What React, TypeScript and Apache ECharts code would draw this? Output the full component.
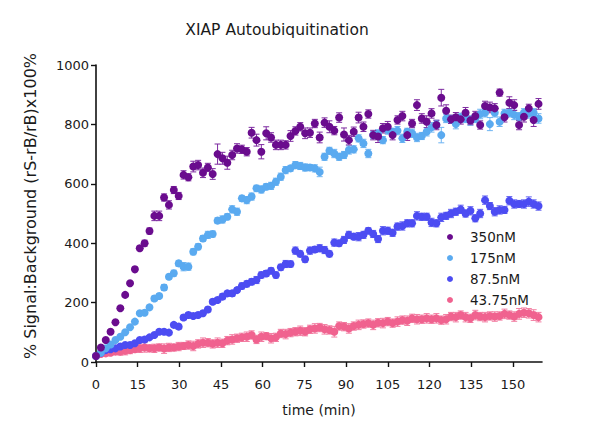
import React, { useEffect, useRef } from "react";
import * as echarts from "echarts";

// time points (min)
const times = [
  0, 1.75, 3.5, 5.25, 7, 8.75, 10.5, 12.25, 14, 15.75, 17.5, 19.25, 21, 22.75, 24.5, 26.25, 28, 29.75, 31.5, 33.25,
  35, 36.75, 38.5, 40.25, 42, 43.75, 45.5, 47.25, 49, 50.75, 52.5, 54.25, 56, 57.75, 59.5, 61.25, 63, 64.75, 66.5, 68.25,
  70, 71.75, 73.5, 75.25, 77, 78.75, 80.5, 82.25, 84, 85.75, 87.5, 89.25, 91, 92.75, 94.5, 96.25, 98, 99.75, 101.5, 103.25,
  105, 106.75, 108.5, 110.25, 112, 113.75, 115.5, 117.25, 119, 120.75, 122.5, 124.25, 126, 127.75, 129.5, 131.25, 133, 134.75, 136.5, 138.25,
  140, 141.75, 143.5, 145.25, 147, 148.75, 150.5, 152.25, 154, 155.75, 157.5, 159.25,
];

const seriesNames = ["350nM", "175nM", "87.5nM", "43.75nM"];

const v350 = [
  20, 49, 74, 102, 134, 181, 226, 265, 312, 383, 400, 441, 492, 492, 554, 529, 579, 559, 630, 622, 658, 663, 637, 655,
  633, 700, 686, 671, 697, 719, 716, 708, 772, 747, 708, 770, 756, 731, 731, 731, 761, 778, 792, 770, 772, 803, 756,
  806, 792, 779, 823, 766, 747, 775, 823, 792, 835, 764, 759, 787, 792, 764, 815, 828, 764, 803, 865, 820, 809, 837,
  798, 890, 846, 817, 824, 817, 839, 813, 828, 798, 862, 857, 854, 907, 824, 873, 865, 798, 826, 854, 815, 869,
];
const e350 = [
  4, 4, 5, 5, 5, 6, 6, 6, 8, 8, 10, 10, 16, 16, 12, 14, 12, 12, 14, 12, 18, 16, 16, 14,
  18, 34, 20, 22, 16, 16, 14, 14, 18, 20, 24, 22, 16, 16, 16, 14, 18, 14, 14, 18, 16, 14, 18,
  16, 20, 14, 16, 22, 16, 16, 18, 16, 14, 16, 20, 16, 18, 16, 14, 16, 18, 14, 18, 16, 20, 16,
  16, 28, 20, 14, 16, 16, 18, 14, 16, 14, 16, 18, 16, 12, 16, 20, 18, 16, 18, 14, 22, 18,
];

const v175 = [
  20, 31, 46, 59, 74, 85, 100, 117, 136, 164, 166, 184, 214, 222, 251, 287, 299, 332, 321, 321, 371, 388, 416, 428,
  431, 476, 480, 489, 514, 506, 551, 545, 557, 585, 581, 590, 593, 607, 624, 646, 652, 663, 660, 655, 655, 652, 640,
  691, 711, 702, 691, 697, 714, 716, 753, 736, 702, 764, 768, 747, 781, 775, 779, 753, 775, 770, 756, 761, 775, 790,
  800, 764, 820, 817, 801, 824, 820, 813, 820, 835, 839, 801, 839, 809, 837, 839, 832, 826, 839, 837, 839, 820,
];
const e175 = [
  3, 3, 4, 4, 4, 5, 5, 5, 6, 6, 6, 8, 8, 8, 10, 8, 10, 10, 14, 12, 10, 10, 10, 12,
  10, 10, 12, 10, 12, 12, 10, 12, 12, 10, 12, 10, 12, 12, 12, 12, 10, 12, 12, 12, 10, 12, 16,
  12, 12, 14, 12, 12, 14, 12, 12, 14, 14, 12, 14, 12, 14, 12, 14, 14, 12, 14, 14, 12, 14, 16,
  14, 26, 14, 14, 16, 14, 14, 16, 14, 16, 14, 22, 14, 16, 14, 14, 16, 14, 14, 16, 14, 16,
];

const v87 = [
  20, 31, 40, 43, 46, 52, 57, 57, 63, 74, 76, 83, 91, 102, 102, 99, 125, 119, 150, 158, 155, 158, 164, 177,
  203, 209, 220, 231, 231, 242, 256, 263, 270, 276, 293, 298, 307, 293, 319, 330, 330, 375, 364, 346, 375, 379, 383,
  377, 364, 402, 400, 411, 428, 422, 422, 428, 442, 431, 414, 442, 442, 435, 456, 458, 467, 467, 492, 489, 489, 470,
  467, 487, 492, 500, 506, 514, 500, 509, 484, 500, 545, 525, 506, 512, 512, 543, 532, 532, 532, 540, 532, 525,
];
const e87 = [
  3, 3, 3, 4, 4, 4, 4, 5, 5, 5, 6, 6, 6, 6, 6, 6, 8, 8, 8, 8, 8, 8, 8, 8,
  8, 8, 10, 8, 10, 8, 10, 10, 10, 12, 10, 10, 10, 10, 10, 12, 10, 12, 10, 10, 12, 10, 12,
  12, 10, 12, 10, 12, 12, 10, 14, 12, 10, 12, 12, 14, 12, 12, 12, 14, 12, 12, 14, 12, 12, 14,
  12, 14, 12, 14, 12, 14, 12, 14, 12, 14, 14, 12, 14, 14, 12, 14, 14, 12, 14, 16, 14, 14,
];

const v43 = [
  20, 27, 29, 31, 35, 35, 38, 40, 43, 46, 49, 46, 46, 49, 45, 49, 49, 52, 54, 57, 54, 61, 65, 65,
  61, 65, 63, 72, 76, 80, 83, 85, 91, 76, 85, 87, 80, 83, 96, 94, 99, 102, 105, 102, 110, 113, 116,
  110, 108, 102, 121, 119, 113, 121, 125, 128, 131, 125, 132, 131, 136, 131, 136, 141, 139, 147, 144, 144, 147, 144,
  147, 141, 144, 153, 151, 158, 151, 147, 158, 153, 151, 155, 153, 155, 162, 158, 153, 162, 166, 164, 158, 151,
];
const e43 = [
  4, 6, 8, 8, 10, 12, 14, 12, 10, 14, 16, 12, 14, 12, 16, 14, 12, 14, 12, 14, 16, 14, 16, 14,
  14, 16, 14, 14, 16, 14, 14, 16, 14, 14, 16, 12, 16, 14, 14, 16, 14, 14, 16, 14, 14, 16, 14,
  16, 14, 18, 14, 14, 16, 14, 16, 14, 14, 16, 14, 16, 14, 14, 16, 14, 16, 14, 16, 14, 16, 14,
  16, 14, 16, 14, 16, 14, 16, 14, 16, 14, 16, 14, 16, 14, 16, 14, 16, 18, 16, 16, 18, 16,
];

const xTickValues = [0, 15, 30, 45, 60, 75, 90, 105, 120, 135, 150];

const colors = ["#6a0c8e", "#5aaaf0", "#4c4cf2", "#f0628f"];
const errColors = ["#7d2aa0", "#6eb4f2", "#6464f2", "#f27ea2"];

const FONT = "'DejaVu Sans', sans-serif";

function errSeries(vals: number[], errs: number[], color: string) {
  return {
    type: "custom",
    silent: true,
    renderItem: (params: any, api: any) => {
      const x = api.value(0);
      const lo = api.value(1);
      const hi = api.value(2);
      const pHi = api.coord([x, hi]);
      const pLo = api.coord([x, lo]);
      const w = 3;
      const st = { stroke: color, lineWidth: 1 };
      return {
        type: "group",
        children: [
          { type: "line", shape: { x1: pHi[0], y1: pHi[1], x2: pLo[0], y2: pLo[1] }, style: st },
          { type: "line", shape: { x1: pHi[0] - w, y1: pHi[1], x2: pHi[0] + w, y2: pHi[1] }, style: st },
          { type: "line", shape: { x1: pLo[0] - w, y1: pLo[1], x2: pLo[0] + w, y2: pLo[1] }, style: st },
        ],
      };
    },
    encode: { x: 0, y: [1, 2] },
    data: times.map((t, i) => [t, vals[i] - errs[i], vals[i] + errs[i]]),
  };
}

function scatterSeries(name: string, vals: number[], color: string) {
  return {
    type: "scatter",
    name,
    symbol: "circle",
    symbolSize: 8,
    itemStyle: { color, opacity: 1 },
    data: times.map((t, i) => [t, vals[i]]),
  };
}

export default function App() {
  const ref = useRef<HTMLDivElement>(null);
  useEffect(() => {
    if (!ref.current) return;
    const chart = echarts.init(ref.current, undefined, { renderer: "svg" });
    const valueSets = [v350, v175, v87, v43];
    const errSets = [e350, e175, e87, e43];
    const order = [3, 2, 1, 0];
    const series: any[] = [];
    order.forEach((k) => {
      series.push(errSeries(valueSets[k], errSets[k], errColors[k]));
      series.push(scatterSeries(seriesNames[k], valueSets[k], colors[k]));
    });
    chart.setOption({
      animation: false,
      backgroundColor: "#ffffff",
      textStyle: { fontFamily: FONT },
      grid: { left: 96, right: 58, top: 65, bottom: 73, containLabel: false, outerBoundsMode: "none" },
      legend: {
        data: seriesNames.map((n, i) => ({ name: n, itemStyle: { color: colors[i] } })),
        orient: "vertical",
        left: 442,
        top: 225,
        icon: "circle",
        itemWidth: 6,
        itemHeight: 6,
        itemGap: 7,
        textStyle: {
          fontFamily: FONT,
          fontSize: 13.5,
          color: "#1a1a1a",
          lineHeight: 14,
          padding: [0, 0, 0, 12],
        },
      },
      xAxis: {
        type: "value",
        min: 0,
        max: 160.5,
        interval: 15,
        name: "time (min)",
        nameLocation: "middle",
        nameGap: 41,
        nameTextStyle: { fontFamily: FONT, fontSize: 14, color: "#1a1a1a" },
        axisLine: { show: true, onZero: false, lineStyle: { color: "#111", width: 1.6 } },
        axisTick: { show: true, length: 5, lineStyle: { color: "#111", width: 1.4 }, customValues: xTickValues },
        axisLabel: { fontFamily: FONT, fontSize: 13, color: "#1a1a1a", margin: 16, customValues: xTickValues },
        splitLine: { show: false },
      },
      yAxis: {
        type: "value",
        min: 0,
        max: 1000,
        interval: 200,
        axisLine: { show: true, lineStyle: { color: "#111", width: 1.6 } },
        axisTick: { show: true, length: 5, lineStyle: { color: "#111", width: 1.4 } },
        axisLabel: {
          fontFamily: FONT,
          fontSize: 13,
          color: "#1a1a1a",
          margin: 7,
          formatter: (v: number) => String(v),
        },
        splitLine: { show: false },
      },
      graphic: [
        {
          type: "text",
          x: 277,
          y: 30,
          style: {
            text: "XIAP Autoubiquitination",
            fill: "#1a1a1a",
            font: `15.5px ${FONT}`,
            align: "center",
            verticalAlign: "middle",
          },
        },
        {
          type: "text",
          x: 30,
          y: 206,
          rotation: Math.PI / 2,
          style: {
            text: "% Signal:Background (rS-rB/rB)x100%",
            fill: "#1a1a1a",
            font: `16px ${FONT}`,
            align: "center",
            verticalAlign: "middle",
          },
        },
      ],
      series,
    });
    return () => chart.dispose();
  }, []);
  return (
    <div
      ref={ref}
      style={{ position: "fixed", left: 0, top: 0, width: 600, height: 435, background: "#fff" }}
    />
  );
}
